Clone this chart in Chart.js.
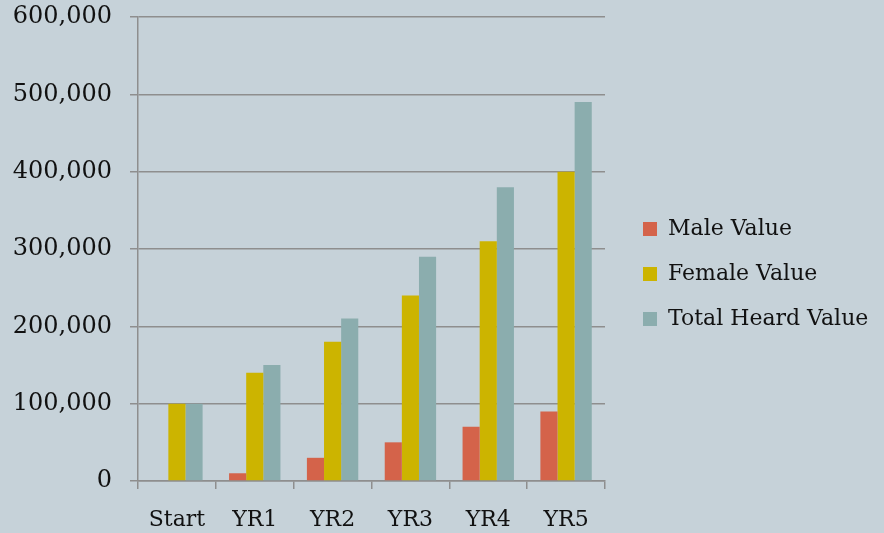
<!DOCTYPE html>
<html>
<head>
<meta charset="utf-8">
<script src="https://cdn.jsdelivr.net/npm/chart.js@4/dist/chart.umd.min.js"></script>
<style>
  html, body { margin: 0; padding: 0; background: #c6d2d9; }
  #wrap { width: 884px; height: 533px; }
</style>
</head>
<body>
<div id="wrap"><canvas id="chart" width="884" height="533"></canvas></div>
<script>
const categories = ['Start', 'YR1', 'YR2', 'YR3', 'YR4', 'YR5'];
const maleValues = [0, 10000, 30000, 50000, 70000, 90000];
const femaleValues = [100000, 140000, 180000, 240000, 310000, 400000];
const totalValues = [100000, 150000, 210000, 290000, 380000, 490000];

const FONT = 'DejaVu Serif';
const gridColor = '#8e8e8e';

// legend gets a fixed-width column on the right, nudged like the original
const legendPlace = {
  id: 'legendPlace',
  beforeInit(chart) {
    const fit = chart.legend.fit;
    chart.legend.fit = function () { fit.call(this); this.width = 279; };
  },
  afterLayout(chart) {
    chart.legend.left += 15;
    chart.legend.top += 15;
  }
};

const ctx = document.getElementById('chart').getContext('2d');
new Chart(ctx, {
  type: 'bar',
  data: {
    labels: categories,
    datasets: [
      { label: 'Male Value', data: maleValues, backgroundColor: '#d4634a' },
      { label: 'Female Value', data: femaleValues, backgroundColor: '#ccb400' },
      { label: 'Total Heard Value', data: totalValues, backgroundColor: '#8badae' }
    ]
  },
  plugins: [legendPlace],
  options: {
    responsive: false,
    animation: false,
    layout: { padding: 0 },
    datasets: { bar: { categoryPercentage: 0.66, barPercentage: 1 } },
    plugins: {
      tooltip: { enabled: false },
      legend: {
        position: 'right',
        labels: {
          color: '#111',
          font: { family: FONT, size: 22 },
          boxWidth: 14,
          boxHeight: 14,
          padding: 23
        }
      }
    },
    scales: {
      x: {
        grid: { display: true, drawOnChartArea: false, color: gridColor, lineWidth: 1.5, tickLength: 8 },
        border: { display: true, color: gridColor, width: 1.5 },
        ticks: { color: '#111', font: { family: FONT, size: 22 }, padding: 18 },
        afterFit(s) {
          s.height = 52;
        }
      },
      y: {
        min: 0,
        max: 600000,
        grid: { color: gridColor, lineWidth: 1.5, tickLength: 8 },
        border: { display: true, color: gridColor, width: 1.5 },
        ticks: {
          stepSize: 100000,
          color: '#111',
          font: { family: FONT, size: 24, lineHeight: 1 },
          padding: 18,
          callback: v => v.toLocaleString('en-US')
        },
        afterFit(s) {
          s.width = 138;
          s.paddingTop = 17;
          s.paddingBottom = 0;
        }
      }
    }
  }
});
</script>
</body>
</html>
